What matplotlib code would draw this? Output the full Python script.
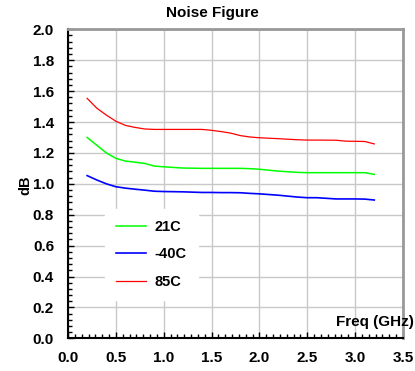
import matplotlib
matplotlib.use("Agg")
import matplotlib.pyplot as plt
from matplotlib.ticker import MultipleLocator, AutoMinorLocator

freq = [0.2, 0.3, 0.4, 0.5, 0.6, 0.7, 0.8, 0.9, 1.0, 1.2, 1.4, 1.5, 1.6, 1.7,
        1.8, 1.9, 2.0, 2.2, 2.4, 2.5, 2.6, 2.8, 2.9, 3.0, 3.1, 3.2]
nf_21c = [1.30, 1.25, 1.20, 1.165, 1.147, 1.140, 1.132, 1.115, 1.110, 1.102, 1.100, 1.100, 1.100, 1.100,
          1.100, 1.098, 1.094, 1.082, 1.074, 1.072, 1.072, 1.072, 1.072, 1.072, 1.072, 1.061]
nf_m40c = [1.053, 1.025, 1.000, 0.981, 0.972, 0.965, 0.959, 0.952, 0.950, 0.948, 0.944, 0.944, 0.943, 0.943,
           0.942, 0.938, 0.935, 0.926, 0.914, 0.910, 0.910, 0.902, 0.902, 0.902, 0.901, 0.895]
nf_85c = [1.553, 1.49, 1.445, 1.405, 1.378, 1.365, 1.355, 1.352, 1.352, 1.352, 1.352, 1.346, 1.338, 1.328,
          1.312, 1.303, 1.298, 1.292, 1.285, 1.283, 1.283, 1.282, 1.276, 1.275, 1.274, 1.258]
labels = ["21C", "-40C", "85C"]
colors = ["#00ff00", "#0000ff", "#ff0000"]

plt.rcParams['font.family'] = ['Liberation Sans', 'DejaVu Sans']
plt.rcParams['font.weight'] = 'bold'

W, H = 415, 371
fig = plt.figure(figsize=(W/100, H/100), dpi=100)
ax = fig.add_axes([68/W, 1-338.3/H, (403-68)/W, (338.3-29.3)/H])

l1, = ax.plot(freq, nf_21c, color=colors[0], lw=1.1, label=labels[0])
l2, = ax.plot(freq, nf_m40c, color=colors[1], lw=1.2, label=labels[1])
l3, = ax.plot(freq, nf_85c, color=colors[2], lw=0.9, label=labels[2])

ax.set_xlim(0, 3.5)
ax.set_ylim(0, 2.0)
ax.xaxis.set_major_locator(MultipleLocator(0.5))
ax.yaxis.set_major_locator(MultipleLocator(0.2))
ax.xaxis.set_minor_locator(AutoMinorLocator(7))
ax.yaxis.set_minor_locator(AutoMinorLocator(5))
ax.grid(True, which='major', color='#c8c8c8', lw=1.0)
ax.set_axisbelow(True)

ax.tick_params(which='both', direction='in', top=False, right=False,
               labelsize=11, width=1.0, color='black')
ax.tick_params(which='major', length=4)
ax.tick_params(which='minor', length=3)
ax.tick_params(axis='x', pad=9)
ax.tick_params(axis='y', pad=10)
ax.set_xticklabels([f"{v:.1f}" for v in ax.get_xticks()], fontweight='bold')
ax.set_yticklabels([f"{v:.1f}" for v in ax.get_yticks()], fontweight='bold')

for s in ['left', 'bottom']:
    ax.spines[s].set_color('black')
    ax.spines[s].set_linewidth(1.5)
for s in ['top', 'right']:
    ax.spines[s].set_color('#999999')
    ax.spines[s].set_linewidth(2)

fig.text(25/W, 1-185/H, "dB", ha='center', va='center', rotation=90,
         fontsize=10.5, fontweight='bold')
fig.text(212/W, 1-13.5/H, "Noise Figure", ha='center', va='center',
         fontsize=11, fontweight='bold')
fig.text(414/W, 1-322/H, "Freq (GHz)", ha='right', va='center',
         fontsize=11, fontweight='bold')

leg = ax.legend(handles=[l1, l2, l3], loc='upper left',
                bbox_to_anchor=((105-68)/335, (338.3-209)/309),
                frameon=True, fancybox=False, framealpha=1, edgecolor='white',
                prop={'weight': 'bold', 'size': 10.5}, handlelength=2.0,
                labelspacing=0.9, borderpad=0.78, handletextpad=0.6,
                borderaxespad=0)

fig.savefig("out.png", dpi=100)
